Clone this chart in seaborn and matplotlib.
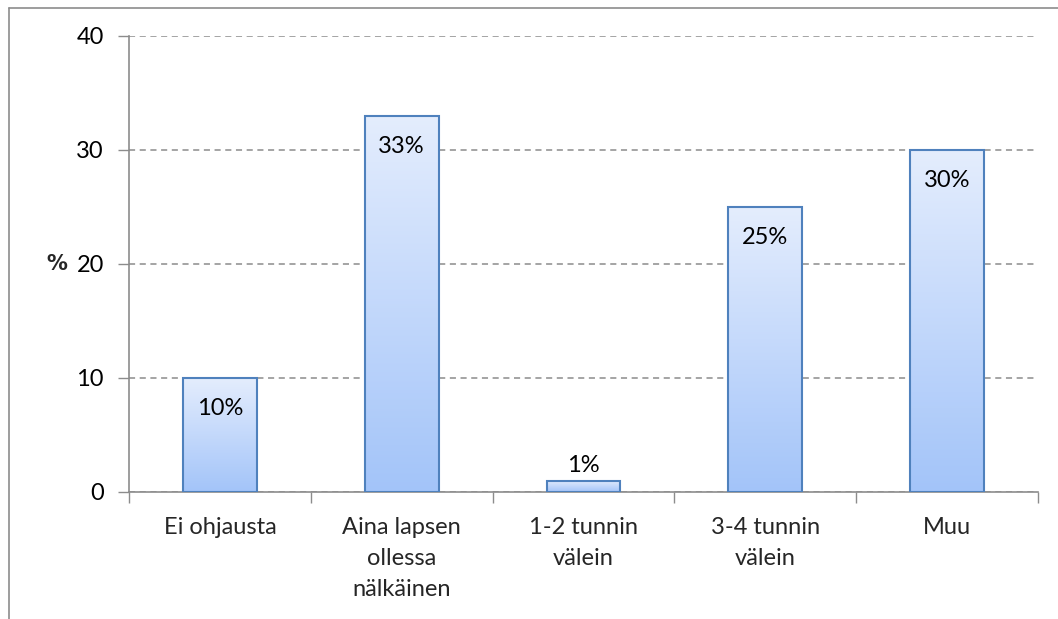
import matplotlib
matplotlib.use("Agg")
import matplotlib.pyplot as plt
import seaborn as sns
import numpy as np
import pandas as pd
from matplotlib.lines import Line2D
from matplotlib.colors import LinearSegmentedColormap

categories = ["Ei ohjausta", "Aina lapsen\nollessa\nnälkäinen", "1-2 tunnin\nvälein",
              "3-4 tunnin\nvälein", "Muu"]
values = [10, 33, 1, 25, 30]
labels = ["10%", "33%", "1%", "25%", "30%"]
yticks = [0, 10, 20, 30, 40]

sns.set_theme(style="white")
plt.rcParams['font.family'] = ['Lato', 'DejaVu Sans']

df = pd.DataFrame({"cat": categories, "val": values})

fig = plt.figure(figsize=(10.58, 6.19), dpi=100)
ax = fig.add_axes([129/1058, 1-492/619, (1038-129)/1058, (492-36)/619])

sns.barplot(data=df, x="cat", y="val", ax=ax, width=0.405, color="#b8d0fb",
            edgecolor="#4f81bd", linewidth=1.5, zorder=3)

ax.set_xlim(-0.5, len(categories)-0.5)
ax.set_ylim(0, 40)

cmap = LinearSegmentedColormap.from_list("g", ["#a3c4f9", "#e4edfd"])
grad = np.linspace(0, 1, 256).reshape(-1, 1)
for p in ax.patches:
    x0, y0 = p.get_x(), p.get_y()
    w, h = p.get_width(), p.get_height()
    im = ax.imshow(grad, cmap=cmap, origin="lower", aspect="auto",
                   extent=[x0, x0+w, y0, y0+h], zorder=3.5)
    im.set_clip_path(p)
    p.set_facecolor("none")
    p.set_zorder(4)
ax.set_xlim(-0.5, len(categories)-0.5)
ax.set_ylim(0, 40)

FS = 17
for i, (v, lab) in enumerate(zip(values, labels)):
    if v < 5:
        ax.annotate(lab, (i, v), xytext=(0, 11), textcoords="offset points",
                    ha="center", va="center", fontsize=FS, color="black", zorder=6)
    else:
        ax.annotate(lab, (i, v), xytext=(0, -22), textcoords="offset points",
                    ha="center", va="center", fontsize=FS, color="black", zorder=6)

# grid
ax.set_yticks(yticks)
ax.yaxis.grid(True, linestyle=(0, (4, 3)), color="#8c8c8c", linewidth=1.1, zorder=0)
ax.set_axisbelow(True)

# ticks
ax.set_xticks(np.arange(-0.5, len(categories), 1.0))
ax.set_xticklabels([])
ax.set_xticks(np.arange(len(categories)), minor=True)
ax.set_xticklabels(categories, minor=True, fontsize=FS, linespacing=1.58)
ax.tick_params(axis="x", which="major", direction="out", length=8, width=1, color="#8c8c8c", bottom=True)
ax.tick_params(axis="x", which="minor", length=0, pad=18)
ax.tick_params(axis="y", direction="out", length=8, width=1, color="#8c8c8c", left=True,
               labelsize=17, pad=10)
for lab in ax.get_yticklabels():
    lab.set_color("black")

ax.set_xlabel("")
ax.set_ylabel("%", rotation=0, fontsize=15, fontweight="bold", labelpad=14, va="center",
              family=["DejaVu Sans"])

for s in ["top", "right"]:
    ax.spines[s].set_visible(False)
for s in ["left", "bottom"]:
    ax.spines[s].set_color("#8c8c8c")
    ax.spines[s].set_linewidth(1.2)

# outer frame (left and top edges visible)
fig.add_artist(Line2D([8.5/1058, 8.5/1058], [0, 1-7.5/619], color="#8c8c8c", linewidth=1.2,
                      transform=fig.transFigure))
fig.add_artist(Line2D([8.5/1058, 1], [1-7.5/619, 1-7.5/619], color="#8c8c8c", linewidth=1.2,
                      transform=fig.transFigure))

fig.savefig("out.png", dpi=100)
